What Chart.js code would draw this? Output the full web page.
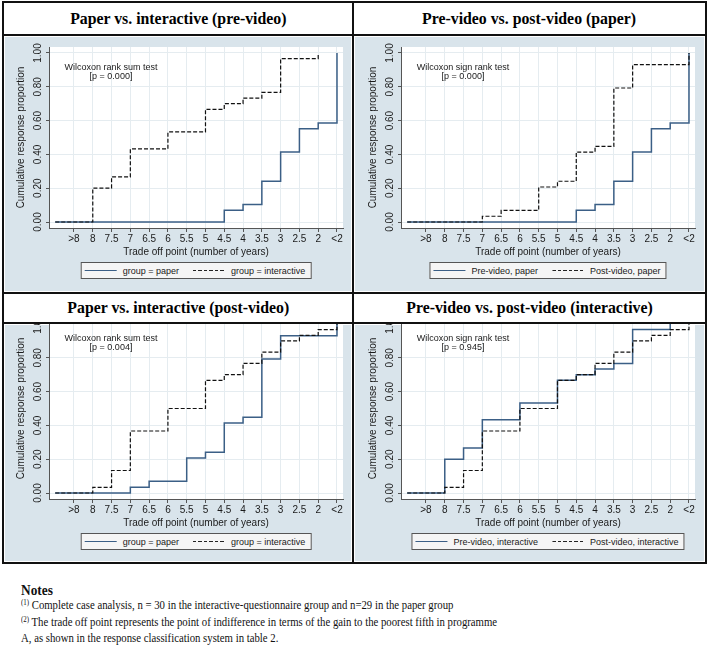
<!DOCTYPE html>
<html>
<head>
<meta charset="utf-8">
<title>Cumulative response proportion by trade off point</title>
<script src="https://cdn.jsdelivr.net/npm/chart.js@4.4.1/dist/chart.umd.min.js"></script>
<style>
  html, body { margin:0; padding:0; background:#ffffff; }
  body { width:709px; height:646px; position:relative; overflow:hidden; font-family:'Liberation Sans', Arial, sans-serif; color:#1a1a1a; }
  .bg { position:absolute; background:#d9e4eb; z-index:1; }
  .rule { position:absolute; background:#111; z-index:6; }
  .titlebox { position:absolute; background:#fff; z-index:5; display:flex; align-items:center; justify-content:center;
              font-family:'Liberation Serif','Times New Roman',serif; font-weight:bold; font-size:17px; color:#000; white-space:nowrap; }
  .titlebox span { display:inline-block; transform:scaleX(0.93); }
  canvas { position:absolute; z-index:2; }
  .ann { position:absolute; z-index:3; font-size:9px; line-height:9px; text-align:center; transform:translateX(-50%); white-space:nowrap; color:#1a1a1a; }
  .legend { position:absolute; z-index:3; transform:translateX(-50%); height:17px; box-sizing:border-box; border:1px solid #555;
            background:#f5f5f5; display:flex; align-items:center; padding:0 5px 0 3px; font-size:9px; white-space:nowrap; color:#1a1a1a; }
  .legend .sample { display:inline-block; width:32px; height:0; margin-right:6px; }
  .legend .solid { border-top:1.5px solid #3b5f86; }
  .legend .dashed { height:1.2px; background:repeating-linear-gradient(to right, #222 0 3.5px, transparent 3.5px 5.5px); margin-left:14px; }
  #notes { position:absolute; left:21px; top:582px; font-family:'Liberation Serif','Times New Roman',serif; color:#111;
           transform:scaleX(0.86); transform-origin:0 0; white-space:nowrap; }
  #notes .head { font-weight:bold; font-size:15.5px; line-height:16px; }
  #notes .ln { font-size:12.5px; line-height:15.5px; }
  #notes .sup { font-size:8px; position:relative; top:-4px; }
</style>
</head>
<body>
<script>
// ---------- data ----------
const tradeOffLabels = ['>8', '8', '7.5', '7', '6.5', '6', '5.5', '5', '4.5', '4', '3.5', '3', '2.5', '2', '<2'];
const yTickValues = [0, 0.2, 0.4, 0.6, 0.8, 1.0];
const startValue = 0;

// cumulative response proportion at each trade off point (null = line has ended)
const paperPreVideo        = [0, 0, 0, 0, 0, 0, 0, 0, 0.069, 0.103, 0.241, 0.414, 0.552, 0.586, 1.000];
const interactivePreVideo  = [0, 0.200, 0.267, 0.433, 0.433, 0.533, 0.533, 0.667, 0.700, 0.733, 0.767, 0.967, 0.967, 1.000, null];
const paperPostVideo       = [0, 0, 0, 0.034, 0.069, 0.069, 0.207, 0.241, 0.414, 0.448, 0.793, 0.931, 0.931, 0.931, 1.000];
const interactivePostVideo = [0, 0.033, 0.133, 0.367, 0.367, 0.500, 0.500, 0.667, 0.700, 0.767, 0.833, 0.900, 0.933, 0.967, 1.000];

const panelTitles = ['Paper vs. interactive (pre-video)', 'Pre-video vs. post-video (paper)',
                     'Paper vs. interactive (post-video)', 'Pre-video vs. post-video (interactive)'];
const testNames = ['Wilcoxon rank sum test', 'Wilcoxon sign rank test', 'Wilcoxon rank sum test', 'Wilcoxon sign rank test'];
const pValues = ['0.000', '0.000', '0.004', '0.945'];
const solidLabels  = ['group = paper', 'Pre-video, paper', 'group = paper', 'Pre-video, interactive'];
const dashedLabels = ['group = interactive', 'Post-video, paper', 'group = interactive', 'Post-video, interactive'];
const solidSeries  = [paperPreVideo, paperPreVideo, paperPostVideo, interactivePreVideo];
const dashedSeries = [interactivePreVideo, paperPostVideo, interactivePostVideo, interactivePostVideo];
const xAxisTitle = 'Trade off point (number of years)';
const yAxisTitle = 'Cumulative response proportion';

// ---------- layout ----------
const colLeft = [5, 357], rowTop = [37, 308];
const CW = 347, CH = 255;
const FONT = "'Liberation Sans', Arial, sans-serif";
const SOLID_COLOR = '#3b5f86', DASH_COLOR = '#111111', GRID = '#e5ecf0', AXIS = '#555555';

function el(tag, cls, style, html) {
  const e = document.createElement(tag);
  if (cls) e.className = cls;
  if (style) Object.assign(e.style, style);
  if (html !== undefined) e.innerHTML = html;
  document.body.appendChild(e);
  return e;
}
const px = v => v + 'px';

// panel backgrounds
[[5, 37, 346, 254], [355, 37, 349, 254], [5, 325, 346, 236], [355, 325, 349, 236]].forEach(b =>
  el('div', 'bg', {left: px(b[0]), top: px(b[1]), width: px(b[2]), height: px(b[3])}));

// frame rules
[[2, 1, 705, 2], [2, 562, 705, 2], [2, 1, 2, 563], [705, 1, 2, 563], [352, 1, 2, 563],
 [2, 34, 705, 2], [2, 292, 705, 2], [2, 322, 705, 2]].forEach(r =>
  el('div', 'rule', {left: px(r[0]), top: px(r[1]), width: px(r[2]), height: px(r[3])}));

// title boxes
[[4, 3, 348, 31], [354, 3, 351, 31], [4, 294, 348, 28], [354, 294, 351, 28]].forEach((b, i) =>
  el('div', 'titlebox', {left: px(b[0]), top: px(b[1]), width: px(b[2]), height: px(b[3])}, '<span></span>')
    .firstChild.textContent = panelTitles[i]);

const whitePlot = {
  id: 'whitePlot',
  beforeDraw(chart) {
    const {ctx, chartArea: a} = chart;
    ctx.save(); ctx.fillStyle = '#ffffff';
    ctx.fillRect(a.left, a.top, a.right - a.left, a.bottom - a.top);
    ctx.restore();
  }
};

function toPoints(values) {
  const pts = [{x: 0, y: startValue}];
  values.forEach((v, i) => pts.push({x: i + 1, y: v}));
  return pts;
}

for (let i = 0; i < 4; i++) {
  const left = colLeft[i % 2], top = rowTop[Math.floor(i / 2)];
  const cv = el('canvas', null, {left: px(left), top: px(top), width: px(CW), height: px(CH)});
  cv.width = CW; cv.height = CH;

  new Chart(cv, {
    type: 'line',
    data: {
      datasets: [
        {label: dashedLabels[i], data: toPoints(dashedSeries[i]), borderColor: DASH_COLOR, borderWidth: 1.2,
         borderDash: [4, 2], stepped: 'before', pointRadius: 0, fill: false, order: 0},
        {label: solidLabels[i], data: toPoints(solidSeries[i]), borderColor: SOLID_COLOR, borderWidth: 1.5,
         stepped: 'before', pointRadius: 0, fill: false, order: 1}
      ]
    },
    options: {
      responsive: false, animation: false, devicePixelRatio: 1,
      layout: {padding: {left: 0, right: 9, top: 10, bottom: 0}},
      plugins: {legend: {display: false}, tooltip: {enabled: false}},
      scales: {
        x: {
          type: 'linear', min: -0.33, max: 15.32,
          afterBuildTicks: s => { s.ticks = tradeOffLabels.map((_, k) => ({value: k + 1})); },
          afterFit: s => { s.height = 64; },
          ticks: {callback: (v, k) => tradeOffLabels[k], autoSkip: false, maxRotation: 0, minRotation: 0,
                  padding: 1, color: '#1a1a1a', font: {family: FONT, size: 10}},
          grid: {color: GRID, lineWidth: 1, tickLength: 4, tickColor: AXIS, tickWidth: 1},
          border: {display: true, color: AXIS, width: 1},
          title: {display: true, text: xAxisTitle, color: '#1a1a1a', font: {family: FONT, size: 10},
                  padding: {top: 0, bottom: 34}}
        },
        y: {
          type: 'linear', min: -0.0355, max: 1.0355,
          afterBuildTicks: s => { s.ticks = yTickValues.map(v => ({value: v})); },
          afterFit: s => { s.width = 44; },
          ticks: {callback: v => Number(v).toFixed(2), minRotation: 90, maxRotation: 90, crossAlign: 'center',
                  padding: -2, color: '#1a1a1a', font: {family: FONT, size: 10}},
          grid: {color: GRID, lineWidth: 1, tickLength: 3, tickColor: AXIS, tickWidth: 1},
          border: {display: true, color: AXIS, width: 1},
          title: {display: true, text: yAxisTitle, color: '#1a1a1a', font: {family: FONT, size: 10},
                  padding: {top: 10, bottom: 0}}
        }
      }
    },
    plugins: [whitePlot]
  });

  // annotation
  const annX = left + 44 + 62;
  el('div', 'ann', {left: px(annX), top: px(top + 26)}).textContent = testNames[i];
  el('div', 'ann', {left: px(annX), top: px(top + 35)}).textContent = '[p = ' + pValues[i] + ']';

  // legend
  const lg = el('div', 'legend', {left: px(left + 44 + 147), top: px(top + 225)});
  const s1 = document.createElement('span'); s1.className = 'sample solid'; lg.appendChild(s1);
  const t1 = document.createElement('span'); t1.textContent = solidLabels[i]; lg.appendChild(t1);
  const s2 = document.createElement('span'); s2.className = 'sample dashed'; lg.appendChild(s2);
  const t2 = document.createElement('span'); t2.textContent = dashedLabels[i]; lg.appendChild(t2);
}
</script>
<div id="notes">
  <div class="head">Notes</div>
  <div class="ln"><span class="sup">(1)</span> Complete case analysis, n = 30 in the interactive-questionnaire group and n=29 in the paper group</div>
  <div class="ln"><span class="sup">(2)</span> The trade off point represents the point of indifference in terms of the gain to the poorest fifth in programme</div>
  <div class="ln">A, as shown in the response classification system in table 2.</div>
</div>
</body>
</html>
